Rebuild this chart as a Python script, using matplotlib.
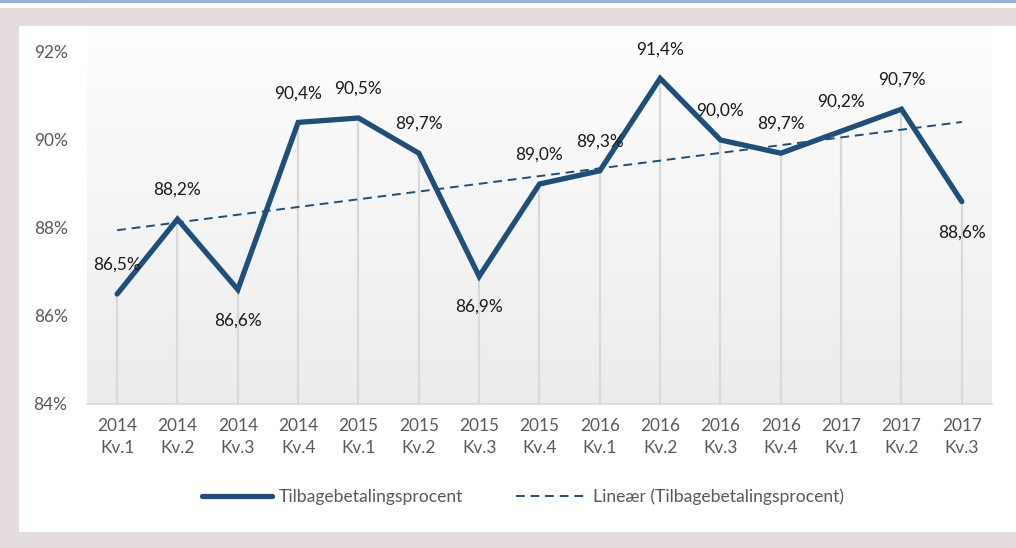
import numpy as np
import matplotlib
matplotlib.use("Agg")
import matplotlib.pyplot as plt
from matplotlib.patches import Rectangle
from matplotlib.lines import Line2D

years = ["2014", "2014", "2014", "2014", "2015", "2015", "2015", "2015",
         "2016", "2016", "2016", "2016", "2017", "2017", "2017"]
quarters = ["Kv.1", "Kv.2", "Kv.3", "Kv.4", "Kv.1", "Kv.2", "Kv.3", "Kv.4",
            "Kv.1", "Kv.2", "Kv.3", "Kv.4", "Kv.1", "Kv.2", "Kv.3"]
values = [86.5, 88.2, 86.6, 90.4, 90.5, 89.7, 86.9, 89.0,
          89.3, 91.4, 90.0, 89.7, 90.2, 90.7, 88.6]
label_pos = ["above", "above", "below", "above", "above", "above", "below", "above",
             "above", "above", "above", "above", "above", "above", "below"]
y_ticks = [84, 86, 88, 90, 92]

series_name = "Tilbagebetalingsprocent"
trend_name = "Lineær (Tilbagebetalingsprocent)"

plt.rcParams['font.family'] = ['Lato', 'DejaVu Sans']

W, H = 1016, 548
fig = plt.figure(figsize=(W / 100, H / 100), dpi=100)
fig.patch.set_facecolor("white")

def px_rect(x0, y0, x1, y1, color, z=0):
    fig.patches.append(Rectangle((x0 / W, 1 - y1 / H), (x1 - x0) / W, (y1 - y0) / H,
                                 transform=fig.transFigure, facecolor=color,
                                 edgecolor="none", zorder=z))

frame = "#e4dcdc"
px_rect(0, 0, W, 2.5, "#95b3d7")
px_rect(0, 8, W, 26, frame)
px_rect(0, 8, 19, H, frame)
px_rect(0, 532, W, H, frame)

ax_left, ax_right, ax_top, ax_bot = 87, 992, 52, 404
ax = fig.add_axes([ax_left / W, 1 - ax_bot / H, (ax_right - ax_left) / W, (ax_bot - ax_top) / H])
ax.set_facecolor("none")

x = np.arange(len(values))
ax.set_xlim(-0.5, len(values) - 0.5)
ax.set_ylim(84, 92)

# gradient background
grad = np.linspace(1, 0, 256).reshape(-1, 1)
top_c = np.array([1.0, 1.0, 1.0])
bot_c = np.array([0.925, 0.925, 0.925])
img = top_c * grad[..., None] + bot_c * (1 - grad[..., None])
img = img.reshape(256, 1, 3)
ax.imshow(img, extent=(-0.5, len(values) - 0.5, 84, 93.1), aspect="auto", zorder=0, clip_on=False)

# drop lines
ax.vlines(x, 84, values, color="#d9d9d9", lw=1.6, zorder=1)

# trend line
coef = np.polyfit(x, values, 1)
trend = np.polyval(coef, x)
blue = "#1f4e79"
ax.plot(x, trend, color=blue, lw=1.4, ls=(0, (4.5, 3)), zorder=2)

# main line
ax.plot(x, values, color=blue, lw=3.8, solid_joinstyle="miter", solid_capstyle="round", zorder=3)

for xi, v, p in zip(x, values, label_pos):
    off = 21 if p == "above" else -22
    ax.annotate(f"{v:.1f}%".replace(".", ","), (xi, v), xytext=(0, off), textcoords="offset points",
                ha="center", va="center", fontsize=12.4, color="#1a1a1a", zorder=4,
                annotation_clip=False)

for s in ["top", "right", "left"]:
    ax.spines[s].set_visible(False)
ax.spines["bottom"].set_color("#d9d9d9")
ax.spines["bottom"].set_linewidth(1.2)

ax.set_yticks(y_ticks)
ax.set_yticklabels([f"{t}%" for t in y_ticks])
ax.set_xticks(x)
ax.set_xticklabels([f"{a}\n{b}" for a, b in zip(years, quarters)], linespacing=1.45)
ax.tick_params(axis="y", length=0, pad=14, labelsize=12.4, labelcolor="#595959")
ax.tick_params(axis="x", length=0, pad=10, labelsize=12.4, labelcolor="#595959")

handles = [Line2D([], [], color=blue, lw=3.8, solid_capstyle="round"),
           Line2D([], [], color=blue, lw=1.4, ls=(0, (4.5, 3)))]
leg = fig.legend(handles, [series_name, trend_name], loc="center",
                 bbox_to_anchor=(523 / W, 1 - 497 / H), ncol=2, frameon=False,
                 fontsize=12.6, handlelength=4.0, handletextpad=0.4, columnspacing=3.0)
for t in leg.get_texts():
    t.set_color("#595959")

fig.savefig("out.png", dpi=100, facecolor=fig.get_facecolor())
